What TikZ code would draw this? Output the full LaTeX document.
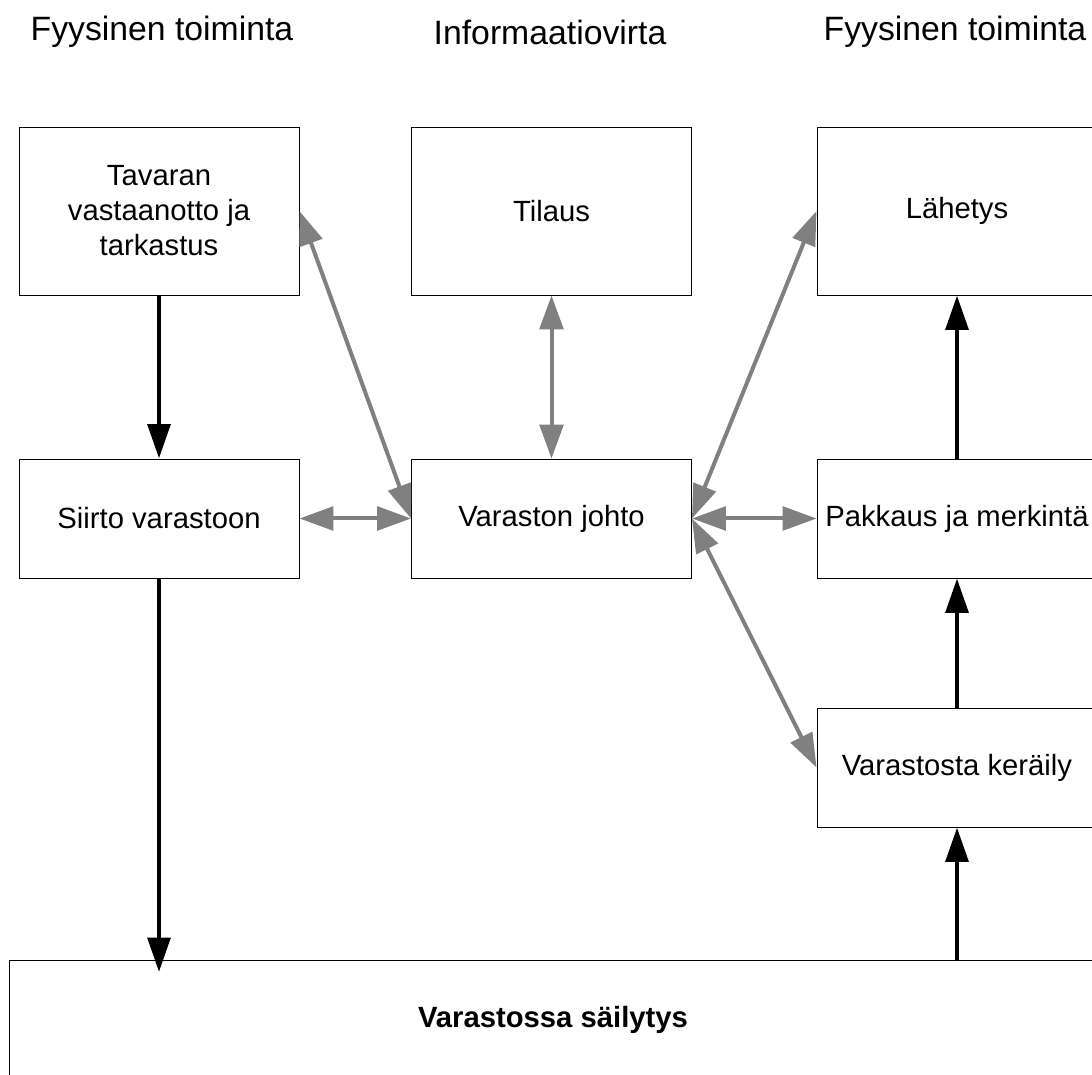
\documentclass[tikz,border=0pt]{standalone}
\usepackage{fontspec}
\setmainfont{Liberation Sans}
\usetikzlibrary{arrows.meta}

\tikzset{
    box/.style={draw, line width=0.6pt, minimum width=7cm, minimum height=2.975cm,
        inner sep=0pt, align=center, font=\fontsize{20.8}{24.9}\selectfont},
    tallbox/.style={box, minimum height=4.2cm},
    heading/.style={font=\fontsize{24}{28}\selectfont},
    flow/.style={-{Triangle[length=0.86cm, width=0.56cm]}, line width=0.12cm},
    info/.style={{Triangle[length=0.85cm, width=0.59cm]}-{Triangle[length=0.85cm, width=0.59cm]},
        line width=0.1cm, gray},
}

\begin{document}
\begin{tikzpicture}[x=0.025cm, y=-0.025cm]
    \useasboundingbox (0,0) rectangle (1092,1075);

    \node[heading] (H1) at (162,32) {Fyysinen toiminta};
    \node[heading] (H2) at (550,32) {Informaatiovirta};
    \node[heading] (H3) at (955,32) {Fyysinen toiminta};

    \node[tallbox] (tavaran) at (159,211) {Tavaran\\vastaanotto ja\\tarkastus};
    \node[tallbox] (tilaus) at (551.5,211) {Tilaus};
    \node[tallbox] (lahetys) at (957,211) {Lähetys};

    \node[box] (siirto) at (159,518.5) {Siirto varastoon};
    \node[box] (johto) at (551.5,518.5) {Varaston johto};
    \node[box] (pakkaus) at (957,518.5) {Pakkaus ja merkintä};

    \node[box] (keraily) at (957,767.5) {Varastosta keräily};

    \node[box, minimum width=27.15cm, minimum height=3cm, font=\fontsize{20.8}{24.9}\selectfont\bfseries]
        (sailytys) at (553,1020) {Varastossa säilytys};

    \coordinate (sisaan) at (159,972);
    \coordinate (ulos) at (957,960);

    \draw[flow] (tavaran) -- (siirto);
    \draw[flow] (siirto) -- (sisaan);
    \draw[flow] (ulos) -- (keraily);
    \draw[flow] (keraily) -- (pakkaus);
    \draw[flow] (pakkaus) -- (lahetys);

    \draw[info] (tavaran.east) -- (johto.west);
    \draw[info] (siirto) -- (johto);
    \draw[info] (tilaus) -- (johto);
    \draw[info] (johto.east) -- (lahetys.west);
    \draw[info] (johto) -- (pakkaus);
    \draw[info] (johto.east) -- (keraily.west);
\end{tikzpicture}
\end{document}
